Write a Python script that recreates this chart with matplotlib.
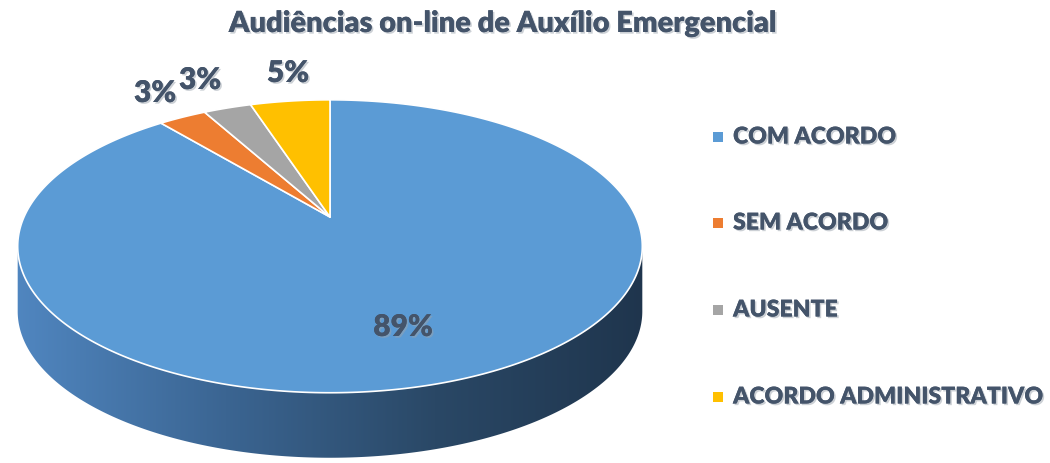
import matplotlib
matplotlib.use("Agg")
import matplotlib.pyplot as plt
import matplotlib.patheffects as pe
import numpy as np
from matplotlib.colors import LinearSegmentedColormap
from matplotlib.patches import Polygon

plt.rcParams["font.family"] = ["Lato", "DejaVu Sans"]

# ── Data ───────────────────────────────────────────────────────────────
title = "Audiências on-line de Auxílio Emergencial"
categories = ["COM ACORDO", "SEM ACORDO", "AUSENTE", "ACORDO ADMINISTRATIVO"]
values = [89, 3, 3, 5]
colors = ["#5b9bd5", "#ed7d31", "#a5a5a5", "#ffc000"]

TEXT = "#44546a"
WEIGHT = "heavy"
shadow = [pe.withSimplePatchShadow(offset=(1.2, -1.2), shadow_rgbFace="#9aa3ad", alpha=0.5),
          pe.Normal()]

W, H = 1050, 463
fig = plt.figure(figsize=(W / 100, H / 100), dpi=100)
ax = fig.add_axes([0, 0, 1, 1])
ax.set_xlim(0, W)
ax.set_ylim(H, 0)
ax.axis("off")

# ── 3D pie geometry (pixel coords, simple perspective) ─────────────────
Q = 0.2                  # perspective strength (back of the disc looks smaller)
CX, CY = 330, 217        # pie apex
RX, RY = 306, 140.6
DEPTH = 65


def project(t_deg):
    t = np.radians(np.asarray(t_deg, dtype=float))
    u, v = np.cos(t), np.sin(t)
    d = 1 + Q * v
    return np.column_stack([CX + RX * u / d, CY - RY * v / d])


fracs = np.array(values, dtype=float) / sum(values)
ends = 90 - 360 * np.cumsum(fracs)
starts = np.concatenate([[90], ends[:-1]])

# visible front side runs between leftmost and rightmost silhouette points
tt = np.linspace(0, 360, 3601)
xs = project(tt)[:, 0]
t_left, t_right = tt[np.argmin(xs)], tt[np.argmax(xs)]
if t_right < t_left:
    t_right += 360

side_cmap = LinearSegmentedColormap.from_list("side", ["#5086c0", "#3b6592", "#2a4866", "#1f354d"])
grad = np.linspace(0, 1, 256).reshape(1, -1)

for s, e, col in zip(starts, ends, colors):
    lo, hi = min(s, e), max(s, e)
    # side
    for off in (-720, -360, 0, 360):
        a, b = max(lo + off, t_left), min(hi + off, t_right)
        if b > a:
            top = project(np.linspace(a, b, 300))
            bot = top[::-1] + [0, DEPTH]
            poly = Polygon(np.vstack([top, bot]), closed=True, facecolor="none",
                           edgecolor="none", zorder=2)
            ax.add_patch(poly)
            im = ax.imshow(grad, cmap=side_cmap, aspect="auto", zorder=2,
                           extent=(CX - RX * 1.03, CX + RX * 1.03, H, 0))
            im.set_clip_path(poly)
    # top face
    arc = project(np.linspace(s, e, 400))
    ax.add_patch(Polygon(np.vstack([[CX, CY], arc]), closed=True, facecolor=col,
                         edgecolor="white", linewidth=1.2, joinstyle="round", zorder=3))

ax.set_xlim(0, W)
ax.set_ylim(H, 0)

# ── Data labels ────────────────────────────────────────────────────────
label_pos = [(403, 327), (155, 93), (200, 80), (288, 73)]
for v, (px, py) in zip(values, label_pos):
    ax.text(px, py, f"{v}%", ha="center", va="center", fontsize=21.5,
            fontweight=WEIGHT, color=TEXT, zorder=5, path_effects=shadow)

# ── Title ──────────────────────────────────────────────────────────────
fig.text(502 / W, 1 - 24 / H, title, ha="center", va="center", fontsize=20.9,
         fontweight=WEIGHT, color=TEXT, path_effects=shadow)

# ── Legend ─────────────────────────────────────────────────────────────
leg_y = [137, 223, 310, 397]
for cat, col, py in zip(categories, colors, leg_y):
    fig.patches.append(plt.Rectangle((713 / W, 1 - (py + 5) / H), 10 / W, 10 / H,
                                     transform=fig.transFigure, facecolor=col,
                                     edgecolor="none"))
    fig.text(733 / W, 1 - py / H, cat, ha="left", va="center", fontsize=16.6,
             fontweight=WEIGHT, color=TEXT, path_effects=shadow)

fig.savefig("out.png", dpi=100, facecolor="white")
